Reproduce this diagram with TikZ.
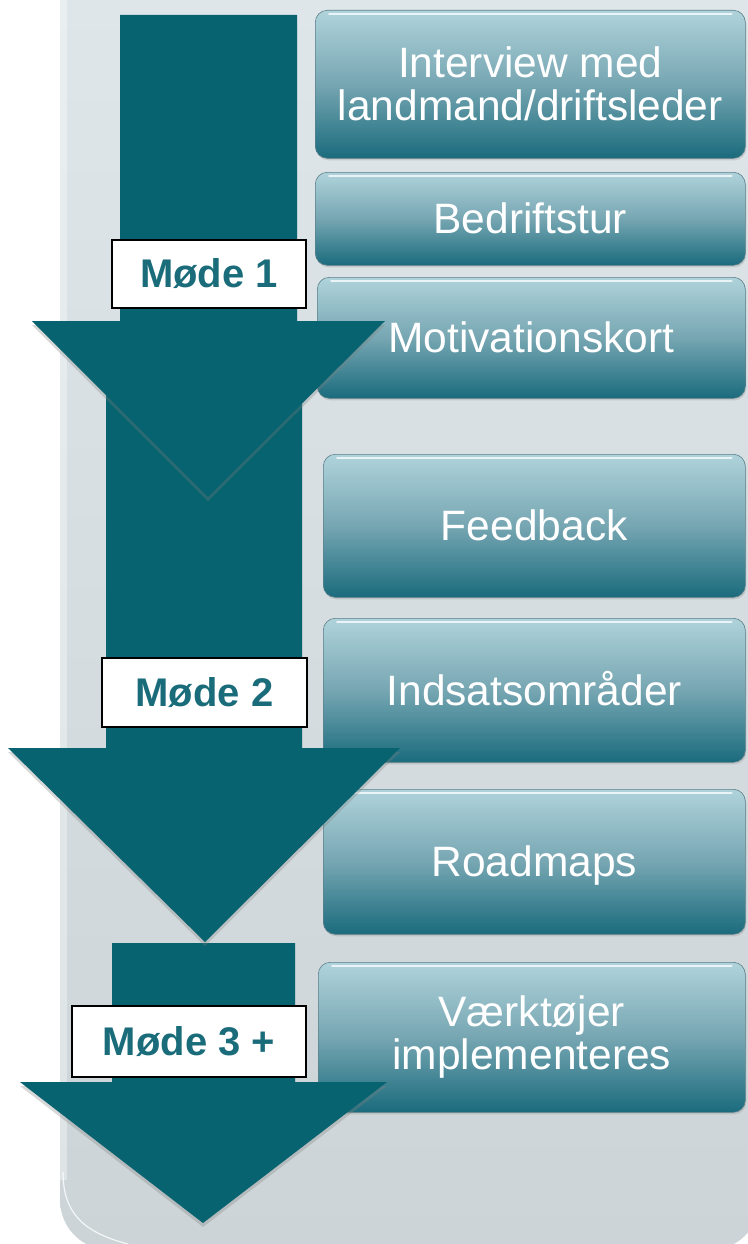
\documentclass[tikz,border=0pt]{standalone}
\usepackage{fontspec}
\setmainfont{Liberation Sans}
\usetikzlibrary{shadows}
\definecolor{arrowteal}{RGB}{7,99,112}
\definecolor{boxtop}{RGB}{176,211,219}
\definecolor{boxmid}{RGB}{118,166,178}
\definecolor{boxbot}{RGB}{26,107,125}
\definecolor{boxedge}{RGB}{92,128,138}
\definecolor{paneltop}{RGB}{222,230,233}
\definecolor{panelbot}{RGB}{204,212,215}
\definecolor{modeteal}{RGB}{26,108,122}

\begin{document}
\begin{tikzpicture}[x=1pt,y=-1pt,
  stepbox/.style={rounded corners=12pt, draw=boxedge, line width=.6pt,
    top color=boxtop, bottom color=boxbot, middle color=boxmid,
    drop shadow={opacity=.25, shadow xshift=1pt, shadow yshift=-2pt},
    text=white, font=\fontsize{42.5}{43}\selectfont, align=center,
    inner sep=0pt, anchor=north west},
  onerow/.style={text height=30pt, text depth=0pt},
  modebox/.style={draw=black, line width=1.6pt, fill=white, inner sep=0pt,
    font=\fontsize{40}{40}\selectfont\bfseries, text=modeteal},
  flow/.style={fill=arrowteal, drop shadow={opacity=.3, shadow xshift=0pt, shadow yshift=-4pt}}]
\useasboundingbox (0,0) rectangle (747,1244);
\fill[white] (0,0) rectangle (747,1244);

% panel
\shade[top color=paneltop, bottom color=panelbot] (760,-5) -- (60,-5) [rounded corners=50pt] -- (60,1250) -- (760,1250) [sharp corners] -- cycle;
\fill[white, opacity=.35] (60,-5) rectangle (67,1180);
\draw[white, opacity=.8, line width=1.2pt] (63,1172) .. controls (63,1212) and (82,1232) .. (128,1244);

% steps
\node[stepbox, minimum width=430pt, minimum height=148pt] (interview) at (315,10) {Interview med\\landmand/driftsleder};
\node[stepbox, onerow, minimum width=430pt, minimum height=93pt] (tur) at (315,172) {Bedriftstur};
\node[stepbox, onerow, minimum width=428pt, minimum height=121pt] (motiv) at (317,277) {Motivationskort};
\node[stepbox, onerow, minimum width=422pt, minimum height=143pt] (feedback) at (323,454) {Feedback};
\node[stepbox, onerow, minimum width=422pt, minimum height=144pt] (indsats) at (323,618) {Indsatsområder};
\node[stepbox, onerow, minimum width=422pt, minimum height=145pt] (roadmap) at (323,789) {Roadmaps};
\node[stepbox, minimum width=427pt, minimum height=150pt] (vaerktoej) at (318,962) {Værktøjer\\implementeres};
\foreach \b in {interview,tur,motiv,feedback,indsats,roadmap,vaerktoej}
  \draw[white, opacity=.75, line width=2pt, line cap=round] ([xshift=14pt,yshift=-4pt]\b.north west) -- ([xshift=-14pt,yshift=-4pt]\b.north east);

% arrows
\fill[flow] (112,943) -- (295,943) -- (295,1082) -- (387,1082) -- (203,1223) -- (20,1082) -- (112,1082) -- cycle;
\fill[flow] (106,340) -- (302,340) -- (302,748) -- (400,748) -- (205,942) -- (8,748) -- (106,748) -- cycle;
\fill[flow] (120,15) -- (297,15) -- (297,321) -- (385,321) -- (208,497) -- (32,321) -- (120,321) -- cycle;

% meetings
\node[modebox, minimum width=194pt, minimum height=68pt] (mode1) at (209,274) {Møde 1};
\node[modebox, minimum width=205pt, minimum height=69pt] (mode2) at (204.5,692.5) {Møde 2};
\node[modebox, minimum width=234pt, minimum height=71pt] (mode3) at (189,1041.5) {Møde 3 +};
\end{tikzpicture}
\end{document}
